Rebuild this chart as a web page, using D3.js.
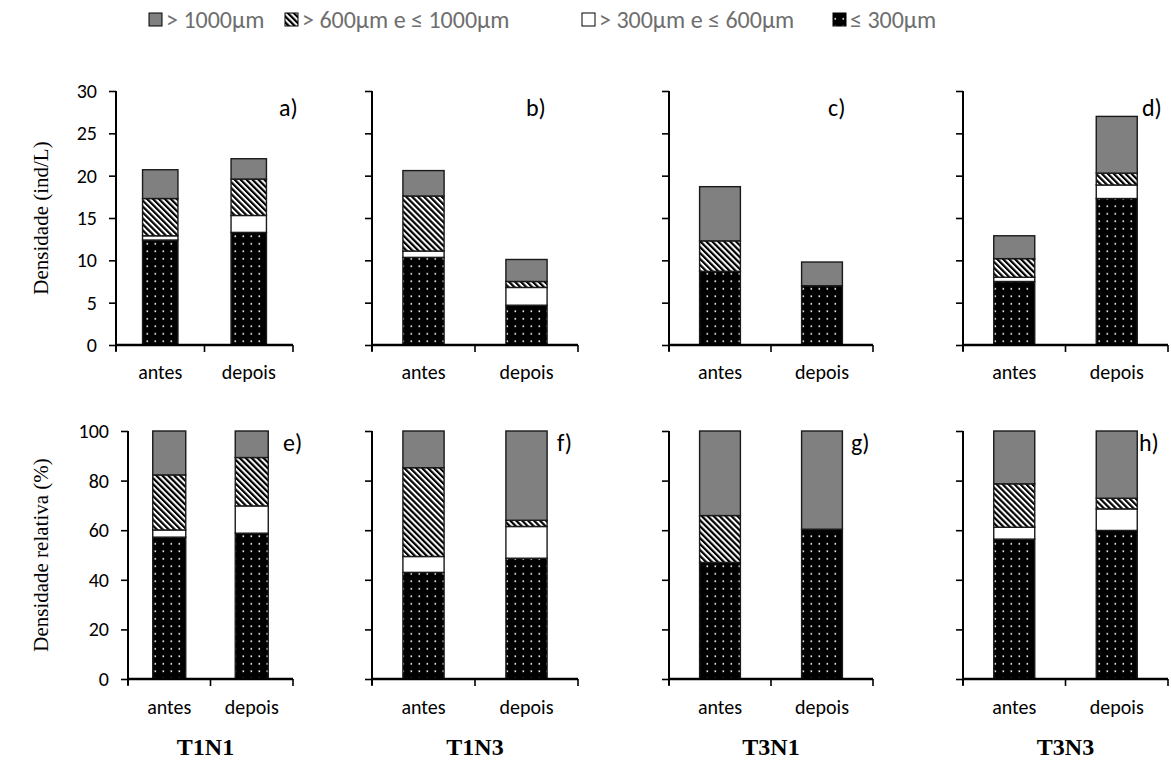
<!DOCTYPE html>
<html>
<head>
<meta charset="utf-8">
<script src="https://cdn.jsdelivr.net/npm/d3@7"></script>
<style>
  body { margin: 0; background: #fff; }
</style>
</head>
<body>
<div id="chart"></div>
<script>
// ---- data ----
var treatments = ['T1N1', 'T1N3', 'T3N1', 'T3N3'];
var periods = ['antes', 'depois'];
var sizeKeys = ['le300', 'g300', 'g600', 'g1000'];
var legendLabels = ['> 1000µm', '> 600µm e ≤ 1000µm', '> 300µm e ≤ 600µm', '≤ 300µm'];
var panelLetters = ['a)', 'b)', 'c)', 'd)', 'e)', 'f)', 'g)', 'h)'];

// densidade (ind/L), order: T1N1 antes, T1N1 depois, T1N3 antes, ...
var dens300   = [12.4, 13.3, 10.35, 4.7, 8.7, 7.0, 7.5, 17.3];
var dens600   = [0.5, 2.0, 0.75, 2.1, 0, 0, 0.5, 1.6];
var dens1000  = [4.4, 4.3, 6.5, 0.7, 3.6, 0, 2.2, 1.4];
var densOver  = [3.4, 2.4, 3.0, 2.6, 6.4, 2.8, 2.7, 6.7];

// densidade relativa (%)
var rel300  = [57.2, 58.8, 43.0, 48.7, 47.0, 60.4, 56.4, 59.9];
var rel600  = [2.9, 11.0, 6.4, 12.8, 0, 0, 4.8, 8.7];
var rel1000 = [22.2, 19.5, 35.8, 2.5, 18.9, 0, 17.5, 4.3];
var relOver = [17.7, 10.7, 14.8, 36.0, 34.1, 39.6, 21.3, 27.1];

var densTicks = [0, 5, 10, 15, 20, 25, 30];
var relTicks = [0, 20, 40, 60, 80, 100];

// ---- layout ----
var W = 1171, H = 772;
var SANS = 'Carlito, Lato, "Open Sans", sans-serif';
var SERIF = '"Liberation Serif", "Times New Roman", serif';

var svg = d3.select('#chart').append('svg')
  .attr('width', W).attr('height', H)
  .style('font-family', SANS);

var defs = svg.append('defs');

// dotted black fill
var dots = defs.append('pattern')
  .attr('id', 'dots').attr('patternUnits', 'userSpaceOnUse')
  .attr('width', 8).attr('height', 7.5);
dots.append('rect').attr('width', 8).attr('height', 7.5).attr('fill', '#000');
dots.append('rect').attr('x', 2.5).attr('y', 3).attr('width', 1.6).attr('height', 1.6).attr('fill', '#fff');

// diagonal hatch "\\"
var hatch = defs.append('pattern')
  .attr('id', 'hatch').attr('patternUnits', 'userSpaceOnUse')
  .attr('width', 4.2).attr('height', 4.2)
  .attr('patternTransform', 'rotate(-45)');
hatch.append('rect').attr('width', 4.2).attr('height', 4.2).attr('fill', '#fff');
hatch.append('rect').attr('width', 2.2).attr('height', 4.2).attr('fill', '#000');

var fills = { le300: 'url(#dots)', g300: '#fff', g600: 'url(#hatch)', g1000: '#808080' };
var legendFills = [fills.g1000, fills.g600, fills.g300, fills.le300];

// legend
var legendX = [149, 285, 582, 833];
var legend = svg.append('g');
legendLabels.forEach(function(lab, i) {
  legend.append('rect')
    .attr('x', legendX[i]).attr('y', 13)
    .attr('width', 13).attr('height', 13)
    .attr('fill', legendFills[i])
    .attr('stroke', '#000').attr('stroke-width', 1);
  legend.append('text')
    .attr('x', legendX[i] + 17).attr('y', 28)
    .attr('fill', '#6e6e6e')
    .attr('font-size', 24)
    .text(lab);
});

var panelRanges = [[116, 293], [372, 578], [669, 873], [963, 1168]];
var letterX = [279, 526, 828, 1142, 283, 557, 851, 1139];

var rows = [
  { y0: 345, y1: 91, max: 30, ticks: densTicks, series: [dens300, dens600, dens1000, densOver],
    title: 'Densidade (ind/L)', letterY: 116, labelY: 379 },
  { y0: 679, y1: 431, max: 100, ticks: relTicks, series: [rel300, rel600, rel1000, relOver],
    title: 'Densidade relativa (%)', letterY: 451, labelY: 714 }
];

rows.forEach(function(row, r) {
  var y = d3.scaleLinear().domain([0, row.max]).range([row.y0, row.y1]);

  treatments.forEach(function(t, i) {
    var x0 = (r === 1 && i === 0) ? 128 : panelRanges[i][0];
    var x1 = panelRanges[i][1];
    var x = d3.scaleBand().domain(periods).range([x0, x1])
      .paddingInner(0.6).paddingOuter(0.3);

    // rows for stacking
    var table = periods.map(function(p, j) {
      var k = i * 2 + j;
      var o = { period: p };
      sizeKeys.forEach(function(key, s) { o[key] = row.series[s][k]; });
      return o;
    });
    var stacked = d3.stack().keys(sizeKeys)(table);

    var g = svg.append('g');
    stacked.forEach(function(layer) {
      g.selectAll(null)
        .data(layer.filter(function(d) { return d[1] - d[0] > 0; }))
        .enter().append('rect')
        .attr('x', function(d) { return x(d.data.period); })
        .attr('y', function(d) { return y(d[1]); })
        .attr('width', x.bandwidth())
        .attr('height', function(d) { return y(d[0]) - y(d[1]); })
        .attr('fill', fills[layer.key])
        .attr('stroke', '#1a1a1a')
        .attr('stroke-width', 1.4);
    });

    // y axis
    var yAxis = d3.axisLeft(y).tickValues(row.ticks).tickSize(7).tickSizeOuter(0)
      .tickPadding(12)
      .tickFormat(i === 0 ? d3.format('d') : function() { return ''; });
    var ya = svg.append('g').attr('transform', 'translate(' + x0 + ',0)').call(yAxis);
    ya.select('.domain').attr('stroke', '#000').attr('stroke-width', 2)
      .attr('d', 'M0,' + row.y1 + 'V' + (row.y0 + 6));
    ya.selectAll('.tick line').attr('stroke', '#000').attr('stroke-width', 1.6);
    ya.selectAll('.tick text').attr('font-size', 20).attr('fill', '#000')
      .attr('font-family', SANS);

    // x axis line + boundary ticks
    svg.append('line')
      .attr('x1', x0).attr('x2', x1).attr('y1', row.y0).attr('y2', row.y0)
      .attr('stroke', '#000').attr('stroke-width', 2.4);
    [x0, (x0 + x1) / 2, x1].forEach(function(tx) {
      svg.append('line')
        .attr('x1', tx).attr('x2', tx).attr('y1', row.y0).attr('y2', row.y0 + 7)
        .attr('stroke', '#000').attr('stroke-width', 1.6);
    });
    periods.forEach(function(p) {
      svg.append('text')
        .attr('x', x(p) + x.bandwidth() / 2).attr('y', row.labelY)
        .attr('text-anchor', 'middle')
        .attr('font-size', 20)
        .attr('fill', '#000')
        .text(p);
    });

    // panel letter
    svg.append('text')
      .attr('x', letterX[r * 4 + i]).attr('y', row.letterY)
      .attr('font-size', 24)
      .attr('fill', '#000')
      .text(panelLetters[r * 4 + i]);

    // treatment label under bottom row
    if (r === 1) {
      svg.append('text')
        .attr('x', (x0 + x1) / 2 + (i === 0 ? -5 : 0)).attr('y', 755)
        .attr('text-anchor', 'middle')
        .style('font-family', SERIF)
        .attr('font-weight', 'bold')
        .attr('font-size', 24)
        .attr('fill', '#000')
        .text(t);
    }
  });

  // y axis title
  svg.append('text')
    .attr('transform', 'translate(48,' + ((row.y0 + row.y1) / 2) + ') rotate(-90)')
    .attr('text-anchor', 'middle')
    .style('font-family', SERIF)
    .attr('font-size', 21)
    .attr('fill', '#000')
    .text(row.title);
});
</script>
</body>
</html>
